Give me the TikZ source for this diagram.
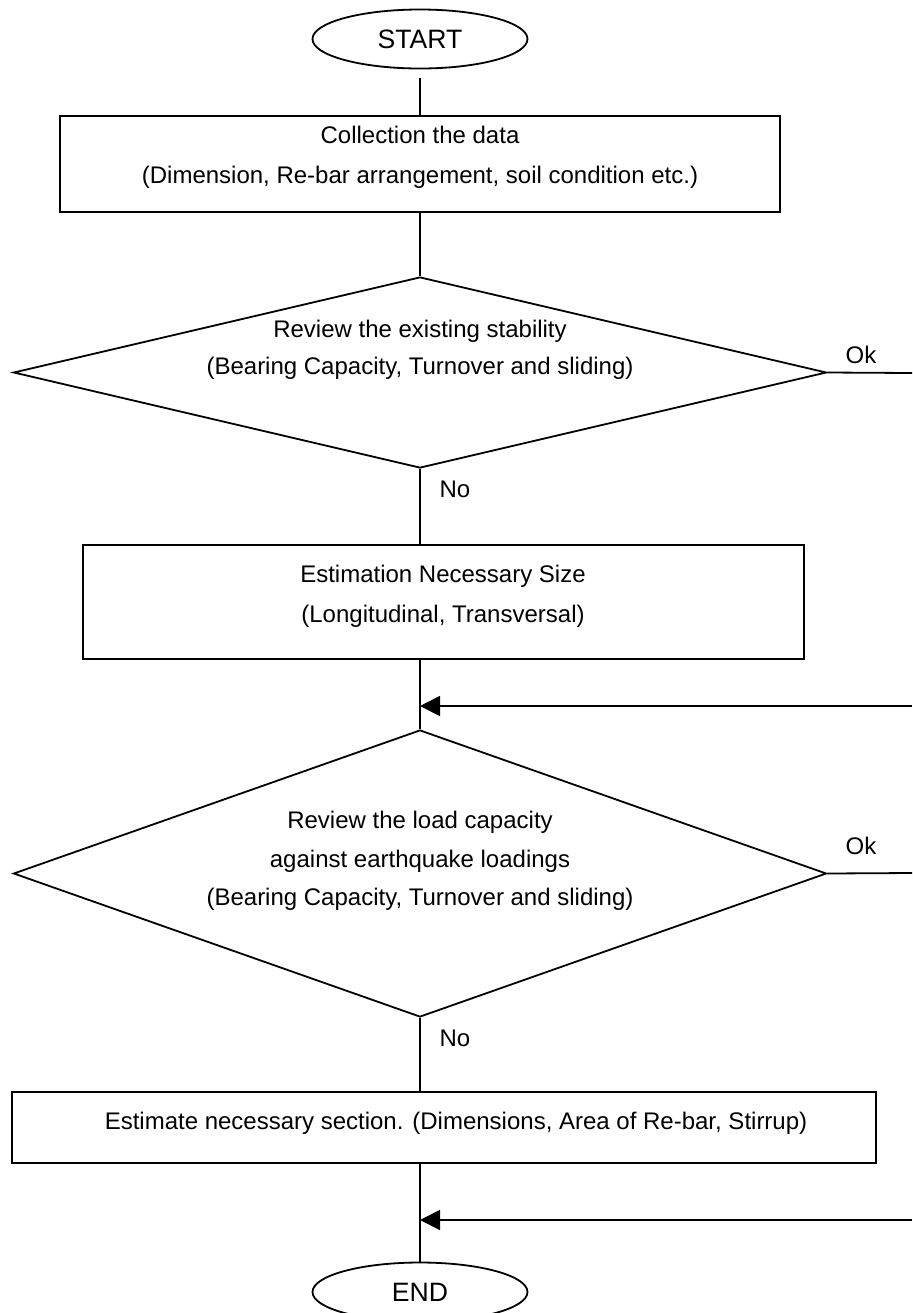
\documentclass[tikz,border=0pt]{standalone}
\usepackage{fontspec}
\setmainfont{Liberation Sans}
\usetikzlibrary{shapes.geometric,arrows.meta}
\tikzset{
  ln/.style={line width=0.9pt, black},
  term/.style={ellipse, draw, line width=0.9pt, minimum width=107.5pt, minimum height=29.5pt, inner sep=0pt, font=\fontsize{13.3}{15}\selectfont},
  procbox/.style={rectangle, draw, line width=0.9pt, inner sep=0pt},
  decbox/.style={diamond, draw, line width=0.9pt, inner sep=0pt, minimum width=406.5pt},
  txt/.style={align=center, inner sep=0pt, font=\fontsize{12}{20}\selectfont},
  lbl/.style={inner sep=0pt, font=\fontsize{12}{14}\selectfont},
  arr/.style={ln, -{Triangle[length=10pt,width=10pt]}}
}
\begin{document}
\begin{tikzpicture}[x=0.5pt,y=-0.5pt]
\useasboundingbox (0,0) rectangle (912,1313);
% terminals
\node[term] (start) at (420,39) {START};
\node[term] (end) at (420,1292) {END};
% box 1
\node[procbox, minimum width=360pt, minimum height=48pt] (b1) at (420,164) {};
\node[txt] (t1) at (420,157) {Collection the data\\(Dimension, Re-bar arrangement, soil condition etc.)};
% decision 1
\node[decbox, minimum height=95.5pt] (d1) at (420,372.5) {};
\node[txt, font=\fontsize{12}{18.5}\selectfont] (td1) at (420,350) {Review the existing stability\\(Bearing Capacity, Turnover and sliding)};
\node[lbl] (ok1) at (861,355) {Ok};
\coordinate (e1) at (912,373);
\node[lbl] (no1) at (455,489) {No};
% box 2
\node[procbox, minimum width=360.5pt, minimum height=57pt] (b2) at (443.5,602) {};
\node[txt] (t2) at (443,596) {Estimation Necessary Size\\(Longitudinal, Transversal)};
% decision 2
\node[decbox, minimum height=143.5pt] (d2) at (420,873.5) {};
\node[txt, font=\fontsize{12}{19.25}\selectfont] (td2) at (420,861) {Review the load capacity\\against earthquake loadings\\(Bearing Capacity, Turnover and sliding)};
\node[lbl] (ok2) at (861,846) {Ok};
\coordinate (e2) at (912,873);
\node[lbl] (no2) at (455,1038) {No};
% box 3
\node[procbox, minimum width=432pt, minimum height=35.5pt] (b3) at (444,1127.5) {};
\node[txt] (t3) at (456,1123) {Estimate necessary section. (Dimensions, Area of Re-bar, Stirrup)};
% incoming loop arrows
\coordinate (a1) at (912,706);
\coordinate (a2) at (912,1220);
% connectors
\draw[ln] ([yshift=-4.5pt]start.south) -- (b1.north);
\draw[ln] (b1.south) -- (d1.north);
\draw[ln] (d1.east) -- (e1);
\draw[ln] (d1.south) -- (d1.south |- b2.north);
\draw[ln] (d1.south |- b2.south) -- (d2.north);
\draw[arr] (a1) -- (a1 -| d2.north);
\draw[ln] (d2.east) -- (e2);
\draw[ln] (d2.south) -- (d2.south |- b3.north);
\draw[ln] (d2.south |- b3.south) -- (end.north);
\draw[arr] (a2) -- (a2 -| d2.north);
\end{tikzpicture}
\end{document}
